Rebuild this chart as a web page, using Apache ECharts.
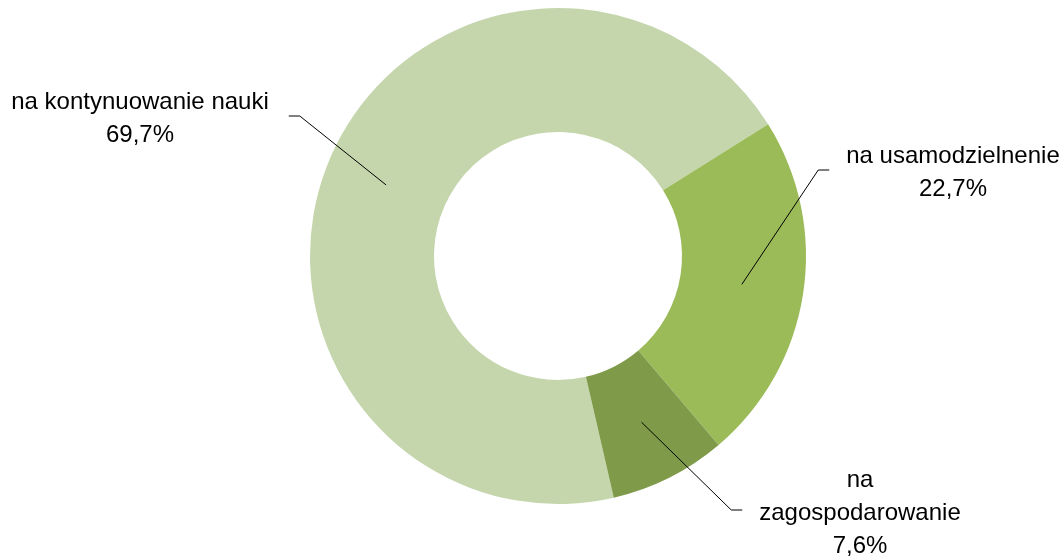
<!DOCTYPE html>
<html>
<head>
<meta charset="utf-8">
<script src="https://cdn.jsdelivr.net/npm/echarts@6/dist/echarts.min.js"></script>
<style>
  html, body { margin: 0; padding: 0; background: #fff; }
  #chart { width: 1064px; height: 560px; }
</style>
</head>
<body>
<div id="chart"></div>
<script>
const categories = ['na kontynuowanie nauki', 'na usamodzielnenie', 'na zagospodarowanie'];
const values = [69.7, 22.7, 7.6];
const colors = ['#c5d6ad', '#9bbb59', '#7f9b4a'];

// label block centre (x, middle y), side of the ring, max line width
const labelPos = [[140, 119], [953, 173], [860, 513]];
const labelSide = ['left', 'right', 'right'];
const labelWrap = [400, 400, 215];

const CX = 558, CY = 256, R_IN = 124, R_OUT = 248;
const START = -77;
const FONT_SIZE = 24;
const LINE_H = 33;
const FONT = '"Liberation Sans", Arial, sans-serif';

const chart = echarts.init(document.getElementById('chart'));
const total = values.reduce((a, b) => a + b, 0);

const measureCtx = document.createElement('canvas').getContext('2d');
measureCtx.font = FONT_SIZE + 'px ' + FONT;

// greedy word wrap so label text and leader line agree on width
const wrapLines = (text, maxW) => {
  const out = [];
  text.split('\n').forEach(par => {
    let line = '';
    par.split(' ').forEach(word => {
      const test = line ? line + ' ' + word : word;
      if (line && measureCtx.measureText(test).width > maxW) {
        out.push(line);
        line = word;
      } else {
        line = test;
      }
    });
    out.push(line);
  });
  return out;
};

const labelLines = (i) =>
  wrapLines(categories[i] + '\n' + values[i].toFixed(1).replace('.', ',') + '%', labelWrap[i]);

const midPoint = (i) => {
  let cum = 0;
  for (let k = 0; k < i; k++) cum += values[k];
  const a = (START - (cum + values[i] / 2) / total * 360) * Math.PI / 180;
  const r = (R_IN + R_OUT) / 2;
  return [CX + r * Math.cos(a), CY - r * Math.sin(a)];
};

const option = {
  animation: false,
  series: [{
    type: 'pie',
    center: [CX, CY],
    radius: [R_IN, R_OUT],
    startAngle: START,
    clockwise: true,
    avoidLabelOverlap: false,
    silent: true,
    data: categories.map((name, i) => ({
      name: name,
      value: values[i],
      itemStyle: { color: colors[i] }
    })),
    label: {
      show: true,
      position: 'outside',
      fontFamily: FONT,
      fontSize: FONT_SIZE,
      lineHeight: LINE_H,
      color: '#000',
      align: 'center',
      formatter: (p) => labelLines(p.dataIndex).join('\n')
    },
    labelLine: { show: false },
    labelLayout: (params) => {
      const [x, y] = labelPos[params.dataIndex];
      return { x: x, y: y, align: 'center', verticalAlign: 'middle' };
    }
  }, {
    // leader lines from the middle of each ring slice to its label
    type: 'custom',
    coordinateSystem: 'none',
    silent: true,
    z: 3,
    data: values.map((v, i) => [i, v]),
    renderItem: (params, api) => {
      const i = params.dataIndex;
      const x = labelPos[i][0];
      const y = labelPos[i][1] - 3;
      const w = Math.max(...labelLines(i).map(l => measureCtx.measureText(l).width));
      let end, elbow;
      if (labelSide[i] === 'left') {
        end = x + w / 2 + 20;
        elbow = end + 11;
      } else {
        end = x - w / 2 - 17;
        elbow = end - 11;
      }
      return {
        type: 'polyline',
        shape: { points: [midPoint(i), [elbow, y], [end, y]] },
        style: { stroke: '#000', lineWidth: 1, fill: null }
      };
    }
  }]
};

chart.setOption(option);
</script>
</body>
</html>
